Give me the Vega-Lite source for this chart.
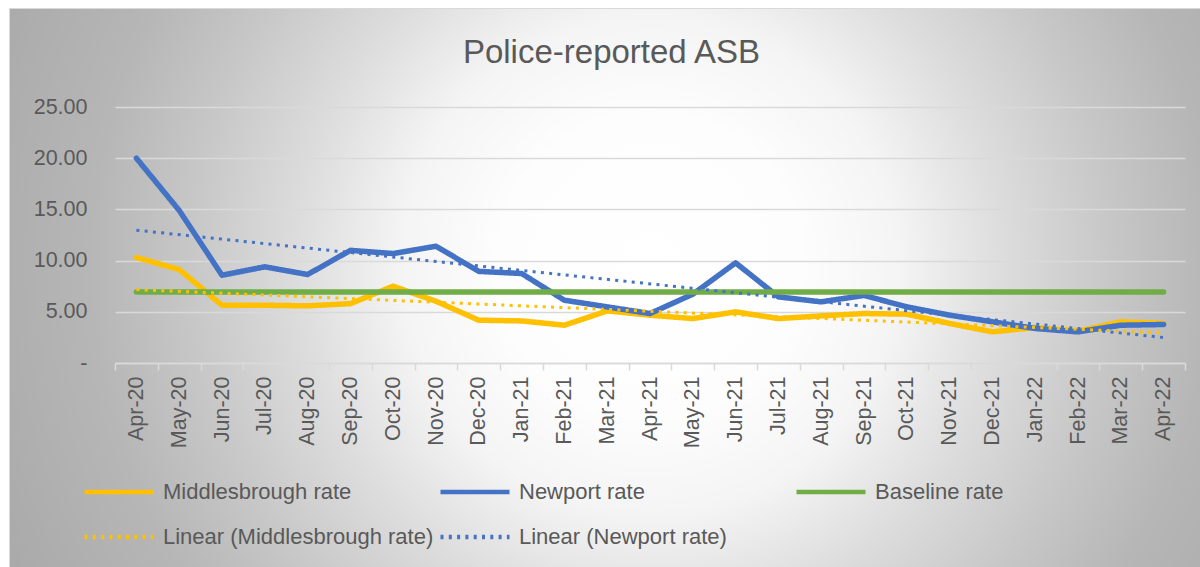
{
  "$schema": "https://vega.github.io/schema/vega-lite/v6.json",
  "autosize": {"type": "none"},
  "width": 1191,
  "height": 559,
  "padding": {"left": 9, "top": 8, "right": 0, "bottom": 0},
  "background": "white",
  "title": {
    "text": "Police-reported ASB",
    "font": "Liberation Sans",
    "fontSize": 33,
    "fontWeight": "normal",
    "color": "#595959",
    "anchor": "middle",
    "frame": "group",
    "baseline": "alphabetic",
    "offset": -55,
    "dx": 7,
    "dy": 33
  },
  "datasets": {
    "rates": [
      {"month": "Apr-20", "Middlesbrough rate": 10.3, "Newport rate": 20.0, "Baseline rate": 6.94},
      {"month": "May-20", "Middlesbrough rate": 9.13, "Newport rate": 14.9, "Baseline rate": 6.94},
      {"month": "Jun-20", "Middlesbrough rate": 5.64, "Newport rate": 8.57, "Baseline rate": 6.94},
      {"month": "Jul-20", "Middlesbrough rate": 5.64, "Newport rate": 9.39, "Baseline rate": 6.94},
      {"month": "Aug-20", "Middlesbrough rate": 5.58, "Newport rate": 8.64, "Baseline rate": 6.94},
      {"month": "Sep-20", "Middlesbrough rate": 5.8, "Newport rate": 11.0, "Baseline rate": 6.94},
      {"month": "Oct-20", "Middlesbrough rate": 7.5, "Newport rate": 10.69, "Baseline rate": 6.94},
      {"month": "Nov-20", "Middlesbrough rate": 6.03, "Newport rate": 11.4, "Baseline rate": 6.94},
      {"month": "Dec-20", "Middlesbrough rate": 4.18, "Newport rate": 8.95, "Baseline rate": 6.94},
      {"month": "Jan-21", "Middlesbrough rate": 4.11, "Newport rate": 8.74, "Baseline rate": 6.94},
      {"month": "Feb-21", "Middlesbrough rate": 3.69, "Newport rate": 6.13, "Baseline rate": 6.94},
      {"month": "Mar-21", "Middlesbrough rate": 5.09, "Newport rate": 5.48, "Baseline rate": 6.94},
      {"month": "Apr-21", "Middlesbrough rate": 4.67, "Newport rate": 4.83, "Baseline rate": 6.94},
      {"month": "May-21", "Middlesbrough rate": 4.34, "Newport rate": 6.72, "Baseline rate": 6.94},
      {"month": "Jun-21", "Middlesbrough rate": 4.99, "Newport rate": 9.78, "Baseline rate": 6.94},
      {"month": "Jul-21", "Middlesbrough rate": 4.34, "Newport rate": 6.46, "Baseline rate": 6.94},
      {"month": "Aug-21", "Middlesbrough rate": 4.6, "Newport rate": 5.97, "Baseline rate": 6.94},
      {"month": "Sep-21", "Middlesbrough rate": 4.83, "Newport rate": 6.6, "Baseline rate": 6.94},
      {"month": "Oct-21", "Middlesbrough rate": 4.77, "Newport rate": 5.48, "Baseline rate": 6.94},
      {"month": "Nov-21", "Middlesbrough rate": 3.86, "Newport rate": 4.67, "Baseline rate": 6.94},
      {"month": "Dec-21", "Middlesbrough rate": 3.04, "Newport rate": 4.02, "Baseline rate": 6.94},
      {"month": "Jan-22", "Middlesbrough rate": 3.47, "Newport rate": 3.37, "Baseline rate": 6.94},
      {"month": "Feb-22", "Middlesbrough rate": 3.1, "Newport rate": 3.04, "Baseline rate": 6.94},
      {"month": "Mar-22", "Middlesbrough rate": 4.02, "Newport rate": 3.69, "Baseline rate": 6.94},
      {"month": "Apr-22", "Middlesbrough rate": 3.86, "Newport rate": 3.76, "Baseline rate": 6.94}
    ],
    "trends": [
      {"month": "Apr-20", "series": "Linear (Middlesbrough rate)", "value": 7.17},
      {"month": "Apr-22", "series": "Linear (Middlesbrough rate)", "value": 2.94},
      {"month": "Apr-20", "series": "Linear (Newport rate)", "value": 12.97},
      {"month": "Apr-22", "series": "Linear (Newport rate)", "value": 2.49}
    ]
  },
  "encoding": {
    "x": {
      "field": "month",
      "type": "nominal",
      "sort": ["Apr-20","May-20","Jun-20","Jul-20","Aug-20","Sep-20","Oct-20","Nov-20","Dec-20","Jan-21","Feb-21","Mar-21","Apr-21","May-21","Jun-21","Jul-21","Aug-21","Sep-21","Oct-21","Nov-21","Dec-21","Jan-22","Feb-22","Mar-22","Apr-22"],
      "scale": {
        "type": "band",
        "domain": ["Apr-20","May-20","Jun-20","Jul-20","Aug-20","Sep-20","Oct-20","Nov-20","Dec-20","Jan-21","Feb-21","Mar-21","Apr-21","May-21","Jun-21","Jul-21","Aug-21","Sep-21","Oct-21","Nov-21","Dec-21","Jan-22","Feb-22","Mar-22","Apr-22"],
        "range": [106, 1176],
        "paddingInner": 0,
        "paddingOuter": 0
      },
      "axis": {
        "orient": "bottom",
        "offset": -204,
        "title": null,
        "labelAngle": -90,
        "labelFont": "Liberation Sans",
        "labelFontSize": 21.5,
        "labelColor": "#595959",
        "labelPadding": 6,
        "labelOverlap": false,
        "tickBand": "extent",
        "ticks": true,
        "tickSize": 7,
        "tickColor": "#d9d9d9",
        "tickWidth": 1.5,
        "domainColor": "#d9d9d9",
        "domainWidth": 1.5,
        "grid": false
      }
    },
    "y": {
      "field": "value",
      "type": "quantitative",
      "scale": {"domain": [0, 25], "range": [355, 99], "nice": false, "zero": false},
      "axis": {
        "orient": "left",
        "offset": -106,
        "title": null,
        "values": [0, 5, 10, 15, 20, 25],
        "labelExpr": "datum.value === 0 ? '-\u00a0\u00a0' : format(datum.value, '.2f')",
        "labelFont": "Liberation Sans",
        "labelFontSize": 21.5,
        "labelColor": "#595959",
        "labelPadding": 28,
        "ticks": false,
        "tickSize": 0,
        "domain": false,
        "grid": true,
        "gridColor": "#d9d9d9",
        "gridWidth": 1.5
      }
    },
    "color": {
      "field": "series",
      "type": "nominal",
      "scale": {
        "domain": ["Middlesbrough rate", "Newport rate", "Baseline rate", "Linear (Middlesbrough rate)", "Linear (Newport rate)"],
        "range": ["#FFC000", "#4472C4", "#70AD47", "#FFC000", "#4472C4"]
      },
      "legend": {
        "title": null,
        "orient": "none",
        "legendX": 73,
        "legendY": 473,
        "direction": "horizontal",
        "columns": 3,
        "gridAlign": "all",
        "columnPadding": 4,
        "rowPadding": 23,
        "padding": 0,
        "clipHeight": 22,
        "symbolType": "stroke",
        "symbolSize": 4761,
        "symbolStrokeWidth": 4.5,
        "labelFont": "Liberation Sans",
        "labelFontSize": 22,
        "labelColor": "#595959",
        "labelLimit": 600,
        "labelOffset": 7
      }
    },
    "strokeDash": {
      "field": "series",
      "type": "nominal",
      "scale": {
        "domain": ["Middlesbrough rate", "Newport rate", "Baseline rate", "Linear (Middlesbrough rate)", "Linear (Newport rate)"],
        "range": [[1, 0], [1, 0], [1, 0], [3, 5.3], [3, 5.3]]
      },
      "legend": {
        "title": null,
        "orient": "none",
        "legendX": 73,
        "legendY": 473,
        "direction": "horizontal",
        "columns": 3,
        "gridAlign": "all",
        "columnPadding": 4,
        "rowPadding": 23,
        "padding": 0,
        "clipHeight": 22,
        "symbolType": "stroke",
        "symbolSize": 4761,
        "symbolStrokeWidth": 4.5,
        "labelFont": "Liberation Sans",
        "labelFontSize": 22,
        "labelColor": "#595959",
        "labelLimit": 600,
        "labelOffset": 7
      }
    }
  },
  "layer": [
    {
      "data": {"name": "rates"},
      "transform": [{"fold": ["Middlesbrough rate", "Newport rate", "Baseline rate"], "as": ["series", "value"]}],
      "mark": {"type": "line", "strokeWidth": 5.5, "strokeCap": "round", "strokeJoin": "round"}
    },
    {
      "data": {"name": "trends"},
      "mark": {"type": "line", "strokeWidth": 3, "strokeCap": "butt"}
    }
  ],
  "config": {
    "view": {
      "stroke": "#d9d9d9",
      "fill": {
        "gradient": "radial",
        "x1": 0.538, "y1": 0.481, "r1": 0,
        "x2": 0.538, "y2": 0.481, "r2": 0.588,
        "stops": [
          {"offset": 0, "color": "#ffffff"},
          {"offset": 0.214, "color": "#fdfdfd"},
          {"offset": 0.357, "color": "#f4f4f4"},
          {"offset": 0.5, "color": "#dddddd"},
          {"offset": 0.657, "color": "#c7c7c7"},
          {"offset": 0.8, "color": "#b6b6b6"},
          {"offset": 1, "color": "#aaaaaa"}
        ]
      }
    }
  }
}
